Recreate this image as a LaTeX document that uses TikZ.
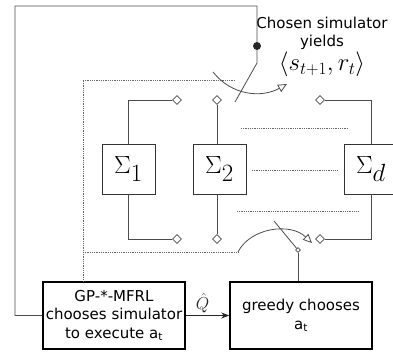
\documentclass[tikz,border=0pt]{standalone}
\usepackage{fontspec}
\setmainfont{DejaVu Sans}
\usepackage{amsmath}
\usetikzlibrary{arrows.meta,shapes.geometric,positioning}

\tikzset{
  wire/.style={draw=black!70, line width=0.8pt},
  dotline/.style={draw=black!60, line width=0.8pt, densely dotted},
  sigmabox/.style={draw=black!80, line width=1pt, minimum width=53pt, minimum height=50pt, inner sep=0pt, font=\fontsize{35}{38}\selectfont},
  contact/.style={diamond, draw=black!70, fill=white, line width=0.7pt, inner sep=0pt, minimum size=9pt},
  pivot/.style={diamond, draw=black!70, fill=white, line width=0.6pt, inner sep=0pt, minimum size=5pt},
  mainbox/.style={draw, line width=1.6pt, minimum width=142pt, minimum height=67pt, align=center, inner sep=0pt, font=\fontsize{15}{18.5}\selectfont},
  swing/.style={draw=black!70, line width=0.8pt, -{Triangle[open,length=9pt,width=8pt]}},
}

\begin{document}
\begin{tikzpicture}[x=1pt,y=-1pt]
\useasboundingbox (0,0) rectangle (393,351);
  \node (gp) at (114,315.5)[mainbox]{GP-*-MFRL\\chooses simulator\\to execute a\textsubscript{t}};
  \node (greedy) at (301,315.5)[mainbox]{greedy chooses\\a\textsubscript{t}};
         \node (s1) at (128.5,169)[sigmabox]{$\Sigma_1$};
         \node (s2) at (219.5,169)[sigmabox]{$\Sigma_2$};
         \node (sd) at (371,169)[sigmabox]{$\Sigma_d$};
  \node (c1t) at (177,100)[contact]{};
  \node (c2t) at (217,100)[contact]{};
  \node (cdt) at (320,100)[contact]{};
  \node (c1b) at (177,239)[contact]{};
  \node (c2b) at (217,239)[contact]{};
  \node (cdb) at (320,239)[contact]{};
  \node (pv) at (298,250)[pivot]{};
  \node (yields) at (322,17)[anchor=north,align=center,inner sep=0pt,font=\fontsize{15}{18}\selectfont]{Chosen simulator\\yields\\[1pt]{\fontsize{23}{23}\selectfont$\langle s_{t+1},r_t\rangle$}};
  \coordinate (tp) at (257,63);
  \coordinate (ta) at (235,102);
  \coordinate (ba) at (274,221);
  \coordinate (dl) at (83,80);
         \draw [wire] (gp.west) -| (15,6) -| (tp) -- (ta);
  \node (dot) at (257,46)[circle,fill=black!85,inner sep=0pt,minimum size=8pt]{};
         \draw [wire] (c1t) -| (s1.north);
         \draw [wire] (c2t) -- (c2t |- s2.north);
         \draw [wire] (cdt) -| (sd.north);
         \draw [wire] (s1.south) |- (c1b);
         \draw [wire] (c2t |- s2.south) -- (c2b);
         \draw [wire] (sd.south) |- (cdb);
         \draw [wire] (greedy.north -| pv) -- (pv);
         \draw [wire] (pv) -- (ba);
         \draw [black!85, line width=0.8pt, -{Stealth[length=8pt,width=6pt]}] (gp.east) -- (greedy.west)
            node (qhat) [midway, above=1pt, inner sep=1pt, font=\fontsize{18}{18}\selectfont, xshift=-5pt]{$\hat{Q}$};
         \draw [dotline] (235,80) -- (dl) -- (dl |- gp.north);
         \draw [dotline] (83,252) -- (238,252);
         \draw [dotline] (241,128) -- (348,128);
         \draw [dotline] (252,170) -- (338,170);
         \draw [dotline] (237,211) -- (358,211);
         \draw [swing] (213,72) .. controls (232,96) and (262,98) .. (287,84);
         \draw [swing] (238,252) .. controls (250,228) and (290,222) .. (312,243);
    \end{tikzpicture}
\end{document}
